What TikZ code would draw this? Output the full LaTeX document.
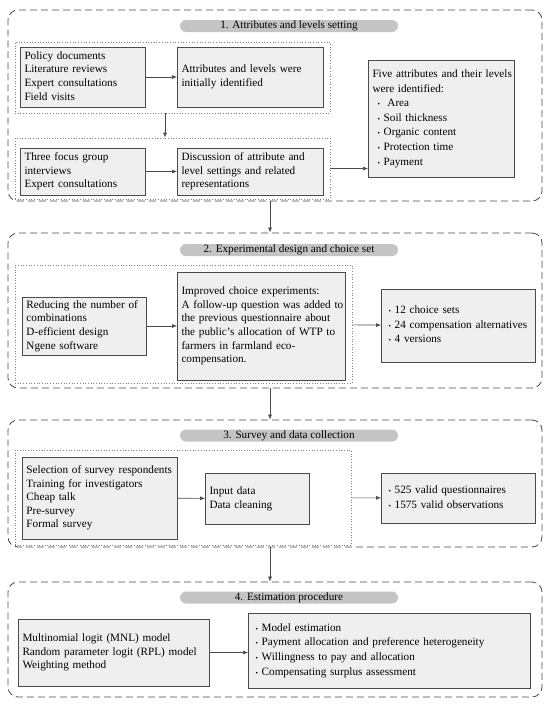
\documentclass[tikz,border=0pt]{standalone}
\usepackage{fontspec}
\setmainfont{Liberation Serif}
\usepackage{tikz}
\usetikzlibrary{arrows.meta}
\definecolor{boxfill}{RGB}{239,239,239}
\definecolor{boxline}{RGB}{75,75,75}
\definecolor{pillfill}{RGB}{196,196,196}
\newcommand{\stagebox}[3] {\node at (#1) (#2) [rectangle, draw=boxline, line width=0.8pt, dash pattern=on 7pt off 4pt, rounded corners=10pt, minimum width=534pt, minimum height=#3] {};}
\newcommand{\stagetitle}[3] {\node at (#1) (#2) [rectangle, fill=pillfill, rounded corners=6pt, minimum width=218pt, minimum height=12pt, inner sep=0pt] {#3};}
\newcommand{\groupbox}[4] {\node at (#1) (#2) [rectangle, draw=gray, dotted, line width=0.7pt, minimum width=#3, minimum height=#4] {};}
\newcommand{\infobox}[5] {\node at (#1) (#2) [rectangle, draw=boxline, fill=boxfill, line width=0.8pt, inner xsep=4pt, inner ysep=0pt, text width=#3, minimum height=#4, align=left] {\begin{tabular}{@{}l@{}}#5\end{tabular}};}
\newcommand{\flow}[2] {\draw [-{Latex[length=5pt,width=4pt]}, draw=boxline, line width=0.6pt] (#1) -- (#2);}
\newcommand{\bl}{{\scriptsize\textbullet}\ }

\begin{document}
\begin{tikzpicture}[x=1pt, y=-1pt, font=\fontsize{11.2}{13.6}\selectfont]
\useasboundingbox (0,0) rectangle (550,707);

% 1. attributes and levels
\stagebox   {275,105.5}{stage1}{191pt}
\stagetitle {289,26}{title1}{1. Attributes and levels setting}
\groupbox   {172.5,77.5}{group1a}{315pt}{71pt}
\groupbox   {172.5,168.5}{group1b}{315pt}{61pt}
\infobox    {83,77}{sources}{117pt}{60pt}{Policy documents\\Literature reviews\\Expert consultations\\Field visits}
\infobox    {250.5,77}{initial}{138pt}{60pt}{Attributes and levels were\\initially identified}
\flow {sources}{initial}
\infobox    {83,171.5}{focus}{117pt}{47pt}{Three focus group\\interviews\\Expert consultations}
\infobox    {250.5,171.5}{discuss}{138pt}{47pt}{Discussion of attribute and\\level settings and related\\representations}
\flow {focus}{discuss}
\flow {[xshift=-7.5pt]group1a.south}{[xshift=-7.5pt]group1b.north}
\infobox    {441.5,118.5}{attrs}{138pt}{117pt}{Five attributes and their levels\\[1pt]were identified:\\[1pt]\hspace*{5pt}\bl\ Area\\[1pt]\hspace*{5pt}\bl Soil thickness\\[1pt]\hspace*{5pt}\bl Organic content\\[1pt]\hspace*{5pt}\bl Protection time\\[1pt]\hspace*{5pt}\bl Payment}
\flow {group1b.east}{group1b.east -| attrs.west}

% 2. experimental design
\stagebox   {275,310.5}{stage2}{155pt}
\stagetitle {289,250}{title2}{2. Experimental design and choice set}
\groupbox   {183.5,324}{group2}{337pt}{118pt}
\infobox    {84.5,326}{reduce}{116pt}{58pt}{\makebox[116pt][s]{Reducing the number of}\\combinations\\D-efficient design\\Ngene software}
\infobox    {261.5,326}{improved}{160pt}{108pt}{Improved choice experiments:\\A follow-up question was added to\\the previous questionnaire about\\the public's allocation of WTP to\\farmers in farmland eco-\\compensation.}
\flow {reduce}{improved}
\infobox    {458.5,325.5}{sets}{146pt}{73pt}{\hspace*{3pt}\bl 12 choice sets\\[1pt]\hspace*{3pt}\bl 24 compensation alternatives\\[1pt]\hspace*{3pt}\bl 4 versions}
\flow {group2}{sets}
\flow {[xshift=-5pt]stage1.south}{[xshift=-5pt]stage2.north}

% 3. survey
\stagebox   {275,483.5}{stage3}{127pt}
\stagetitle {289,435.5}{title3}{3. Survey and data collection}
\groupbox   {183,497.5}{group3}{336pt}{95pt}
\infobox    {100,498}{survey}{147pt}{82pt}{Selection of survey respondents\\Training for investigators\\Cheap talk\\Pre-survey\\Formal survey}
\infobox    {257.5,498.5}{input}{96pt}{51pt}{Input data\\Data cleaning}
\flow {survey}{input}
\infobox    {458.5,498}{valid}{146pt}{50pt}{\hspace*{3pt}\bl 525 valid questionnaires\\[1pt]\hspace*{3pt}\bl 1575 valid observations}
\flow {group3}{valid}
\flow {[xshift=-5pt]stage2.south}{[xshift=-5pt]stage3.north}

% 4. estimation
\stagebox   {275,639.5}{stage4}{115pt}
\stagetitle {289,597.5}{title4}{4. Estimation procedure}
\infobox    {114,652.5}{models}{183pt}{67pt}{Multinomial logit (MNL) model\\Random parameter logit (RPL) model\\Weighting method}
\infobox    {389.5,650.5}{results}{274pt}{75pt}{\hspace*{3pt}\bl Model estimation\\[1pt]\hspace*{3pt}\bl Payment allocation and preference heterogeneity\\[1pt]\hspace*{3pt}\bl Willingness to pay and allocation\\[1pt]\hspace*{3pt}\bl Compensating surplus assessment}
\flow {models}{models -| results.west}
\flow {[xshift=-5pt]stage3.south}{[xshift=-5pt]stage4.north}

\end{tikzpicture}
\end{document}
